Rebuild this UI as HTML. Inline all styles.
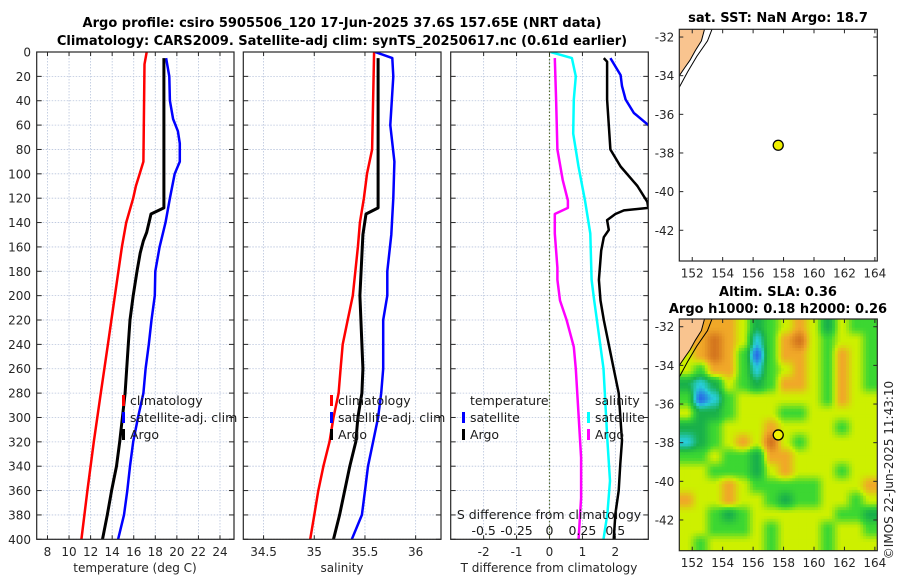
<!DOCTYPE html>
<html><head><meta charset="utf-8">
<style>
html,body{margin:0;padding:0;background:#fff;}
svg{display:block;font-family:"DejaVu Sans","Liberation Sans",sans-serif;}
.tk{font-size:12px;fill:#262626;}
.ttl{font-size:13px;font-weight:bold;fill:#000;}
.lg{font-size:12.5px;fill:#1a1a1a;}
</style></head>
<body>
<svg id="chart" width="900" height="580" viewBox="0 0 900 580" xmlns="http://www.w3.org/2000/svg">
<defs>
<clipPath id="c1"><rect x="36.7" y="52" width="197.3" height="487.3"/></clipPath>
<clipPath id="c2"><rect x="243.3" y="52" width="197.7" height="487.3"/></clipPath>
<clipPath id="c3"><rect x="450.7" y="52" width="197.6" height="487.3"/></clipPath>
<clipPath id="cm1"><rect x="679.3" y="29.3" width="198" height="231.7"/></clipPath>
<clipPath id="cm2"><rect x="679.3" y="319" width="198" height="231.7"/></clipPath>
</defs>
<text class="ttl" x="342" y="27" text-anchor="middle">Argo profile: csiro 5905506_120 17-Jun-2025 37.6S 157.65E (NRT data)</text>
<text class="ttl" x="342" y="45" text-anchor="middle">Climatology: CARS2009. Satellite-adj clim: synTS_20250617.nc (0.61d earlier)</text>
<text class="ttl" x="778" y="22" text-anchor="middle">sat. SST: NaN Argo: 18.7</text>
<text class="ttl" x="778" y="296" text-anchor="middle">Altim. SLA: 0.36</text>
<text class="ttl" x="778" y="313" text-anchor="middle">Argo h1000: 0.18 h2000: 0.26</text>
<text class="tk" transform="translate(893,470) rotate(-90)" text-anchor="middle">©IMOS 22-Jun-2025 11:43:10</text>
<g id="g"></g>
</svg>
<script>
// ---------- profile data ----------
const depthTicks=[0,20,40,60,80,100,120,140,160,180,200,220,240,260,280,300,320,340,360,380,400];
const tempTicks=[8,10,12,14,16,18,20,22,24];
const salTicks=[34.5,35,35.5,36];
const tdiffTicks=[-2,-1,0,1,2];
const sdiffTicks=[-0.5,-0.25,0,0.25,0.5];
const sdiffTickLabels=["-0.5","-0.25","0","0.25","0.5"];

const climTDepth=[0,10,90,100,110,120,140,160,200,240,280,320,360,400];
const climT=[17.2,17.0,16.9,16.55,16.2,15.95,15.3,14.9,14.25,13.6,12.95,12.3,11.7,11.15];
const argoTDepth=[5,128,133,148,155,165,180,200,220,240,260,280,300,320,340,360,380,400];
const argoT=[18.8,18.8,17.6,17.2,16.9,16.6,16.3,15.95,15.65,15.5,15.35,15.2,14.95,14.7,14.4,13.95,13.55,13.1];
const satTDepth=[5,20,40,55,65,75,90,100,120,140,160,180,200,220,240,260,280,300,320,340,360,380,400];
const satT=[19.0,19.3,19.35,19.65,20.1,20.27,20.27,19.8,19.35,18.95,18.4,18.0,17.95,17.65,17.4,17.1,16.9,16.4,15.95,15.65,15.4,15.1,14.55];

const climSDepth=[0,80,100,120,140,160,200,220,240,260,280,300,320,340,360,380,400];
const climS=[35.59,35.57,35.52,35.49,35.45,35.43,35.38,35.33,35.28,35.26,35.24,35.19,35.15,35.09,35.04,35.0,34.96];
const argoSDepth=[5,128,133,150,200,220,240,260,280,300,320,340,360,380,400];
const argoS=[35.63,35.63,35.51,35.48,35.45,35.46,35.47,35.48,35.47,35.43,35.41,35.35,35.3,35.25,35.19];
const satSDepth=[0,5,20,60,90,120,150,180,200,220,240,260,280,300,320,340,360,380,400];
const satS=[35.60,35.77,35.78,35.75,35.79,35.78,35.76,35.72,35.72,35.68,35.68,35.68,35.66,35.63,35.58,35.53,35.50,35.47,35.37];

const argoTdDepth=[5,8,39,80,94,110,123,128,130,133,138,146,152,163,187,204,220,260,280,319,338,360,379,400];
const argoTd=[1.65,1.75,1.75,1.85,2.16,2.67,2.97,3.0,2.26,2.0,1.75,1.8,1.65,1.57,1.5,1.55,1.65,1.95,2.1,2.2,2.15,2.1,2.0,1.95];
const satTdDepth=[5,19,28,39,50,60,70];
const satTd=[1.85,2.16,2.2,2.31,2.56,3.0,3.4];
const satSdDepth=[0,5,20,39,67,94,122,149,187,204,220,260,319,352,379,400];
const satSd=[0.008,0.17,0.2,0.185,0.18,0.22,0.27,0.31,0.32,0.34,0.36,0.41,0.44,0.46,0.44,0.41];
const argoSdDepth=[5,39,80,105,122,128,133,149,177,187,204,220,242,260,297,333,366,401];
const argoSd=[0.04,0.05,0.06,0.1,0.14,0.14,0.04,0.04,0.06,0.06,0.08,0.13,0.185,0.2,0.22,0.24,0.24,0.22];

// ---------- map data ----------
const mapLonTicks=[152,154,156,158,160,162,164];
const mapLatTicks=[-32,-34,-36,-38,-40,-42];
const argoLon=157.65, argoLat=-37.6;
const landLon=[151.0,152.84,152.6,152.2,151.85,151.5,151.15,151.0];
const landLat=[-31.5,-31.5,-32.2,-32.7,-33.2,-33.6,-34.0,-34.0];
const coastLon=[153.3,153.0,152.3,151.7,151.15];
const coastLat=[-31.6,-32.2,-33.0,-33.8,-34.6];
// SLA level grid (0 = low/blue ... 6 = high/dark orange), rows north->south
const slaGrid=[
[5,5,5,5,4,2,3,4,5,4,2,4,3,3],
[5,5,6,5,4,1,3,5,6,4,3,4,4,3],
[4,5,6,5,3,0,3,5,5,4,3,5,4,3],
[4,3,5,5,3,1,3,4,5,4,3,5,4,3],
[2,1,2,4,3,2,3,5,5,4,3,5,4,3],
[3,0,1,3,4,4,4,4,4,4,3,5,4,4],
[4,2,2,3,4,4,4,3,3,4,4,4,4,4],
[2,2,3,4,4,4,5,4,4,4,4,3,4,4],
[1,2,3,4,5,4,6,4,3,4,4,4,4,4],
[3,3,4,3,3,2,5,5,4,4,4,4,4,4],
[4,4,3,3,3,2,4,5,4,4,4,3,4,4],
[4,4,4,5,4,3,3,3,3,3,4,4,4,5],
[5,4,4,5,4,4,3,2,3,3,4,4,3,4],
[4,4,3,2,3,4,4,4,4,4,4,3,3,2],
[4,4,3,3,3,4,3,4,4,4,3,4,4,3],
[4,3,4,4,4,4,3,4,4,4,3,4,4,4]
];
const slaColors=[[40,110,230],[40,205,215],[25,176,74],[60,215,50],[205,240,0],[240,168,40],[212,118,30]];

// ---------- drawing ----------
const NS="http://www.w3.org/2000/svg";
const root=document.getElementById('g');
function mk(tag,attrs,parent){const e=document.createElementNS(NS,tag);for(const k in attrs)e.setAttribute(k,attrs[k]);(parent||root).appendChild(e);return e;}
const Y0=52,Y1=539.3;
function yD(d){return Y0+d*(Y1-Y0)/400;}
function xs(p){return v=>p.x0+(v-p.min)*(p.x1-p.x0)/(p.max-p.min);}
const P1={x0:36.7,x1:234,min:7,max:25.3};
const P2={x0:243.3,x1:441,min:34.3,max:36.25};
const P3={x0:450.7,x1:648.3,min:-3,max:3};
const x1=xs(P1),x2=xs(P2),x3=xs(P3);
const xS3=v=>x3(0)+v*131.6;

function panel(P,xf,ticks,labels,name){
  const g=mk('g',{});
  
  
  ticks.forEach(t=>{
    const l=mk('line',{x1:xf(t),x2:xf(t),y1:Y0,y2:Y1,stroke:'#b8c4dc','stroke-width':0.8,'stroke-dasharray':'1.5,1.5'},g);
    
    
  });
  depthTicks.forEach(d=>{
    const l=mk('line',{x1:P.x0,x2:P.x1,y1:yD(d),y2:yD(d),stroke:'#b8c4dc','stroke-width':0.8,'stroke-dasharray':'1.5,1.5'},g);
    
    
    const a=mk('line',{x1:P.x0,x2:P.x0+5,y1:yD(d),y2:yD(d),stroke:'#262626','stroke-width':1},g);
    
    
    const b=mk('line',{x1:P.x1-5,x2:P.x1,y1:yD(d),y2:yD(d),stroke:'#262626','stroke-width':1},g);
    
    
  });
  ticks.forEach((t,i)=>{
    const a=mk('line',{x1:xf(t),x2:xf(t),y1:Y1,y2:Y1-4,stroke:'#262626','stroke-width':1},g);
    
    
    const b=mk('line',{x1:xf(t),x2:xf(t),y1:Y0,y2:Y0+4,stroke:'#262626','stroke-width':1},g);
    
    
    const tx=mk('text',{x:xf(t),y:556,'text-anchor':'middle',class:'tk'},g);
    tx.textContent=labels?labels[i]:String(t);
    
    
  });
  return g;
}
function line(xf,vals,depths,color,w,clip,name){
  const pts=vals.map((v,i)=>xf(v).toFixed(1)+','+yD(depths[i]).toFixed(1)).join(' ');
  const p=mk('polyline',{points:pts,fill:'none',stroke:color,'stroke-width':w,'stroke-linejoin':'round','clip-path':'url(#'+clip+')'});
  
  
}
function frame(P,name){
  const r=mk('rect',{x:P.x0,y:Y0,width:P.x1-P.x0,height:Y1-Y0,fill:'none',stroke:'#262626','stroke-width':1.2});
  
  
}
function txt(x,y,s,cls,anchor,name){
  const t=mk('text',{x:x,y:y,class:cls,'text-anchor':anchor||'start'});
  t.textContent=s;
  
  
  return t;
}
function legBar(x,y,color,name){
  const r=mk('rect',{x:x,y:y-10,width:3,height:11,fill:color});
  
  
}

// Panel 1 temperature
panel(P1,x1,tempTicks,null,'temperature-panel');
depthTicks.forEach(d=>{txt(31,yD(d)+4.5,String(d),'tk','end','y-tick-label');});
line(x1,climT,climTDepth,'#ff0000',2.5,'c1','temp-climatology-line');
line(x1,satT,satTDepth,'#0000ff',2.5,'c1','temp-satellite-line');
line(x1,argoT,argoTDepth,'#000000',3,'c1','temp-argo-line');
frame(P1,'temperature-axes-frame');
txt(135,572,'temperature (deg C)','tk','middle','temperature-axis-title');
legBar(122,405,'#ff0000','legend-swatch-climatology');
legBar(122,422,'#0000ff','legend-swatch-satellite');
legBar(122,439,'#000000','legend-swatch-argo');
txt(130,405,'climatology','lg','start','legend-entry-climatology');
txt(130,422,'satellite-adj. clim','lg','start','legend-entry-satellite');
txt(130,439,'Argo','lg','start','legend-entry-argo');

// Panel 2 salinity
panel(P2,x2,salTicks,["34.5","35","35.5","36"],'salinity-panel');
line(x2,climS,climSDepth,'#ff0000',2.5,'c2','sal-climatology-line');
line(x2,satS,satSDepth,'#0000ff',2.5,'c2','sal-satellite-line');
line(x2,argoS,argoSDepth,'#000000',3,'c2','sal-argo-line');
frame(P2,'salinity-axes-frame');
txt(342,572,'salinity','tk','middle','salinity-axis-title');
legBar(330,405,'#ff0000','legend-swatch-climatology');
legBar(330,422,'#0000ff','legend-swatch-satellite');
legBar(330,439,'#000000','legend-swatch-argo');
txt(338,405,'climatology','lg','start','legend-entry-climatology');
txt(338,422,'satellite-adj. clim','lg','start','legend-entry-satellite');
txt(338,439,'Argo','lg','start','legend-entry-argo');

// Panel 3 differences
panel(P3,x3,tdiffTicks,null,'difference-panel');
const zl=mk('line',{x1:x3(0),x2:x3(0),y1:Y0,y2:Y1,stroke:'#556b2f','stroke-width':1.2,'stroke-dasharray':'1.5,2'});


line(xS3,argoSd,argoSdDepth,'#ff00ff',2.5,'c3','sdiff-argo-line');
line(xS3,satSd,satSdDepth,'#00ffff',2.5,'c3','sdiff-satellite-line');
line(x3,satTd,satTdDepth,'#0000ff',2.5,'c3','tdiff-satellite-line');
line(x3,argoTd,argoTdDepth,'#000000',2.5,'c3','tdiff-argo-line');
frame(P3,'difference-axes-frame');
txt(549,572,'T difference from climatology','tk','middle','tdiff-axis-title');
txt(549,519,'S difference from climatology','lg','middle','sdiff-axis-title');
sdiffTicks.forEach((s,i)=>{txt(xS3(s),535,sdiffTickLabels[i],'lg','middle','sdiff-tick-label');});
txt(470,405,'temperature','lg','start','legend-title-temperature');
legBar(462,422,'#0000ff','legend-swatch-t-satellite');
legBar(462,439,'#000000','legend-swatch-t-argo');
txt(470,422,'satellite','lg','start','legend-entry-t-satellite');
txt(470,439,'Argo','lg','start','legend-entry-t-argo');
txt(595,405,'salinity','lg','start','legend-title-salinity');
legBar(587,422,'#00ffff','legend-swatch-s-satellite');
legBar(587,439,'#ff00ff','legend-swatch-s-argo');
txt(595,422,'satellite','lg','start','legend-entry-s-satellite');
txt(595,439,'Argo','lg','start','legend-entry-s-argo');

// Maps
const MX0=679.3,MX1=877.3,LON0=151.15,LON1=164.16;
const LAT0=-31.6,LAT1=-43.59;
function mx(lon){return MX0+(lon-LON0)*(MX1-MX0)/(LON1-LON0);}
function my(lat,top){return top+(LAT0-lat)*231.7/(LAT0-LAT1);}
function cmap(v){
  v=Math.max(0,Math.min(6,v));
  const i=Math.min(5,Math.floor(v)),f=v-i,a=slaColors[i],b=slaColors[i+1];
  return 'rgb('+[0,1,2].map(k=>Math.round(a[k]+(b[k]-a[k])*f)).join(',')+')';
}
function sample(gx,gy){
  const nr=slaGrid.length,nc=slaGrid[0].length;
  gx=Math.max(0,Math.min(nc-1,gx));gy=Math.max(0,Math.min(nr-1,gy));
  const c0=Math.floor(gx),r0=Math.floor(gy),c1=Math.min(nc-1,c0+1),r1=Math.min(nr-1,r0+1);
  const fx=gx-c0,fy=gy-r0;
  const sx=t=>t*t*(3-2*t);
  const ux=sx(fx),uy=sx(fy);
  const top=slaGrid[r0][c0]*(1-ux)+slaGrid[r0][c1]*ux;
  const bot=slaGrid[r1][c0]*(1-ux)+slaGrid[r1][c1]*ux;
  return top*(1-uy)+bot*uy;
}
function drawMap(top,clip,heat,name){
  const g=mk('g',{'clip-path':'url(#'+clip+')'});
  
  
  if(heat){
    const hg=mk('g',{},g);
    
    
    const nr=slaGrid.length,nc=slaGrid[0].length;
    const S=5;
    const cw=(MX1-MX0)/(nc*S),ch=231.7/(nr*S);
    for(let r=0;r<nr*S;r++){
      for(let c=0;c<nc*S;c++){
        const v=sample((c+0.5)/S-0.5,(r+0.5)/S-0.5);
        const cell=mk('rect',{x:(MX0+c*cw).toFixed(2),y:(top+r*ch).toFixed(2),width:(cw+0.4).toFixed(2),height:(ch+0.4).toFixed(2),fill:cmap(v)},hg);
        
        
      }
    }
  }
  const land=mk('polygon',{points:landLon.map((l,i)=>mx(l).toFixed(1)+','+my(landLat[i],top).toFixed(1)).join(' '),fill:'#f9c48f',stroke:'#000','stroke-width':1},g);
  
  
  const cst=mk('polyline',{points:coastLon.map((l,i)=>mx(l).toFixed(1)+','+my(coastLat[i],top).toFixed(1)).join(' '),fill:'none',stroke:'#000','stroke-width':1},g);
  
  
  const pt=mk('circle',{cx:mx(argoLon),cy:my(argoLat,top),r:5,fill:'#f0f000',stroke:'#000','stroke-width':1.3});
  
  
  const fr=mk('rect',{x:MX0,y:top,width:MX1-MX0,height:231.7,fill:'none',stroke:'#262626','stroke-width':1.2});
  
  
  mapLonTicks.forEach(l=>{
    const a=mk('line',{x1:mx(l),x2:mx(l),y1:top,y2:top+4,stroke:'#262626'});
    
    
    const b=mk('line',{x1:mx(l),x2:mx(l),y1:top+231.7,y2:top+227.7,stroke:'#262626'});
    
    
    txt(mx(l),top+248,String(l),'tk','middle','lon-tick-label');
  });
  mapLatTicks.forEach(l=>{
    const a=mk('line',{x1:MX0,x2:MX0+4,y1:my(l,top),y2:my(l,top),stroke:'#262626'});
    
    
    const b=mk('line',{x1:MX1-4,x2:MX1,y1:my(l,top),y2:my(l,top),stroke:'#262626'});
    
    
    txt(MX0-5,my(l,top)+4.5,String(l),'tk','end','lat-tick-label');
  });
}
drawMap(29.3,'cm1',false,'sst-map');
drawMap(319,'cm2',true,'sla-map');
</script>
</body></html>
